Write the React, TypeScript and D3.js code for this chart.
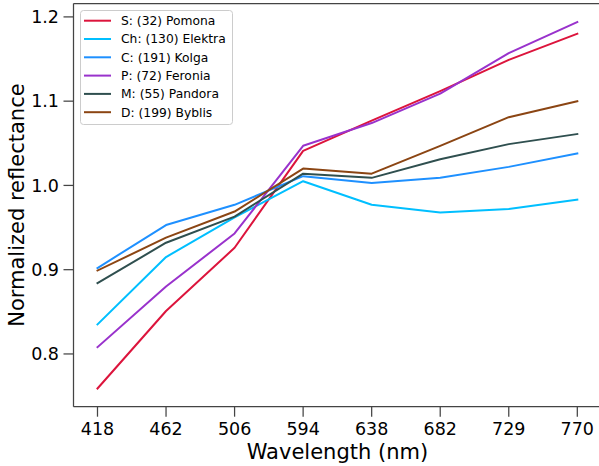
import * as d3 from "d3";

const wavelengths = ["418", "462", "506", "594", "638", "682", "729", "770"];

const pomona = [0.759, 0.851, 0.926, 1.041, 1.077, 1.112, 1.149, 1.18];
const elektra = [0.835, 0.915, 0.962, 1.005, 0.977, 0.968, 0.972, 0.983];
const kolga = [0.902, 0.953, 0.977, 1.011, 1.003, 1.009, 1.022, 1.038];
const feronia = [0.808, 0.88, 0.943, 1.047, 1.074, 1.109, 1.157, 1.194];
const pandora = [0.884, 0.932, 0.963, 1.014, 1.009, 1.031, 1.049, 1.061];
const byblis = [0.899, 0.938, 0.969, 1.02, 1.014, 1.047, 1.081, 1.1];

const seriesNames = [
  "S: (32) Pomona",
  "Ch: (130) Elektra",
  "C: (191) Kolga",
  "P: (72) Feronia",
  "M: (55) Pandora",
  "D: (199) Byblis",
];
const seriesColors = ["#dc143c", "#00bfff", "#1e90ff", "#9932cc", "#2f4f4f", "#8b4513"];
const seriesValues = [pomona, elektra, kolga, feronia, pandora, byblis];

const yTicks = [0.8, 0.9, 1.0, 1.1, 1.2];

const width = 599;
const height = 466;
const left = 73.5;
const right = 601.3;
const top = 3.5;
const bottom = 406.7;

export default function App() {
  const xScale = d3
    .scaleLinear()
    .domain([-0.35, wavelengths.length - 1 + 0.35])
    .range([left, right]);
  const yScale = d3.scaleLinear().domain([0.7374, 1.2159]).range([bottom, top]);

  const line = d3
    .line<number>()
    .x((_, i) => xScale(i))
    .y((d) => yScale(d));

  const font = "DejaVu Sans, sans-serif";
  const axisColor = "#444";

  return (
    <svg
      width={width}
      height={height}
      viewBox={`0 0 ${width} ${height}`}
      style={{ position: "absolute", left: 0, top: 0, background: "#fff" }}
      fontFamily={font}
    >
      {seriesValues.map((vals, i) => (
        <path
          key={seriesNames[i]}
          d={line(vals)!}
          fill="none"
          stroke={seriesColors[i]}
          strokeWidth={2}
          strokeLinejoin="round"
          strokeLinecap="square"
        />
      ))}

      {/* spines */}
      <line x1={left} x2={left} y1={top} y2={bottom} stroke={axisColor} strokeWidth={1.25} />
      <line x1={left} x2={right} y1={bottom} y2={bottom} stroke={axisColor} strokeWidth={1.25} />
      <line x1={left} x2={right} y1={top} y2={top} stroke={axisColor} strokeWidth={1.25} />
      <line x1={right} x2={right} y1={top} y2={bottom} stroke={axisColor} strokeWidth={1.25} />

      {/* x ticks */}
      {wavelengths.map((w, i) => (
        <g key={w} transform={`translate(${xScale(i)},${bottom})`}>
          <line y1={0} y2={10} stroke={axisColor} strokeWidth={1.25} />
          <text y={28.5} textAnchor="middle" fontSize={17.5} fill="#000">
            {w}
          </text>
        </g>
      ))}

      {/* y ticks */}
      {yTicks.map((t) => (
        <g key={t} transform={`translate(${left},${yScale(t)})`}>
          <line x1={-10} x2={0} stroke={axisColor} strokeWidth={1.25} />
          <text x={-14.5} dy="0.36em" textAnchor="end" fontSize={17.5} fill="#000">
            {t.toFixed(1)}
          </text>
        </g>
      ))}

      <text x={(left + right) / 2} y={459} textAnchor="middle" fontSize={21} fill="#000">
        Wavelength (nm)
      </text>
      <text
        transform={`translate(23.5,${(top + bottom) / 2}) rotate(-90)`}
        textAnchor="middle"
        fontSize={21}
        fill="#000"
      >
        Normalized reflectance
      </text>

      {/* legend */}
      <g>
        <rect
          x={80.5}
          y={10.5}
          width={152}
          height={114}
          rx={3}
          fill="#fff"
          fillOpacity={0.8}
          stroke="#ccc"
          strokeWidth={1}
        />
        {seriesNames.map((name, i) => {
          const cy = 20.7 + i * 18.3;
          return (
            <g key={name}>
              <line x1={84} x2={111} y1={cy} y2={cy} stroke={seriesColors[i]} strokeWidth={2} />
              <text x={121} y={cy} dy="0.36em" fontSize={12.3} fill="#000">
                {name}
              </text>
            </g>
          );
        })}
      </g>
    </svg>
  );
}
